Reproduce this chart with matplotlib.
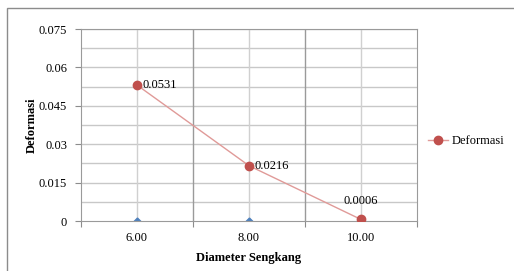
import numpy as np
import matplotlib.pyplot as plt
from matplotlib.patches import Rectangle

plt.rcParams['font.family'] = ['Liberation Serif', 'DejaVu Serif']

categories = ['6.00', '8.00', '10.00']
deformasi = [0.0531, 0.0216, 0.0006]
baseline = [0, 0, 0]
labels = ['0.0531', '0.0216', '0.0006']
yticks = [0, 0.015, 0.03, 0.045, 0.06, 0.075]
ytick_labels = ['0', '0.015', '0.03', '0.045', '0.06', '0.075']

fig = plt.figure(figsize=(5.14, 2.71), dpi=100)
fig.patches.append(Rectangle((7 / 514, -0.05), 1.2, 1 - 8 / 271 + 0.05,
                             transform=fig.transFigure, fill=False,
                             edgecolor='#8c8c8c', linewidth=1.0))
ax = fig.add_axes([81 / 514, 1 - 221 / 271, 336 / 514, 192 / 271])

x = np.arange(len(categories)) + 0.5
ax.set_xlim(0, 3)
ax.set_ylim(0, 0.075)

# gridlines
for yv in np.arange(0.0075, 0.0751, 0.0075):
    ax.axhline(yv, color='#c8c8c8', lw=1.0, zorder=0)
for xv in x:
    ax.axvline(xv, color='#d0d0d0', lw=1.0, zorder=0)
for xv in [1, 2]:
    ax.axvline(xv, color='#9a9a9a', lw=1.0, zorder=0)

ax.plot(x, baseline, ls='none', marker='D', ms=3.5, color='#4f81bd', zorder=2)
line, = ax.plot(x, deformasi, color='#e09a98', lw=1.0, marker='o', ms=6,
                markerfacecolor='#c0504d', markeredgecolor='#c0504d',
                label='Deformasi', zorder=3)

offsets = [(4, 0), (4, 0), (0, 9)]
aligns = [('left', 'center'), ('left', 'center'), ('center', 'bottom')]
for xi, yi, lab, off, al in zip(x, deformasi, labels, offsets, aligns):
    ax.annotate(lab, (xi, yi), xytext=off, textcoords='offset points',
                ha=al[0], va=al[1], fontsize=9)

ax.set_yticks(yticks)
ax.set_yticklabels(ytick_labels, fontsize=9)
ax.set_xticks([0, 1, 2, 3])
ax.set_xticklabels([])
ax.set_xticks(x, minor=True)
ax.set_xticklabels(categories, minor=True, fontsize=9)
ax.tick_params(axis='x', which='minor', length=0, pad=8)
ax.tick_params(axis='x', which='major', length=4, color='#8c8c8c')
ax.tick_params(axis='y', length=4, color='#8c8c8c', pad=6)
for s in ax.spines.values():
    s.set_color('#9a9a9a')

ax.set_xlabel('Diameter Sengkang', fontsize=9, fontweight='bold', labelpad=6)
ax.set_ylabel('Deformasi', fontsize=9, fontweight='bold', labelpad=1)

fig.legend(handles=[line], loc='center left',
           bbox_to_anchor=(428 / 514, 1 - 141 / 271), frameon=False,
           fontsize=9, handlelength=1.6, handletextpad=0.3,
           borderpad=0, borderaxespad=0)

fig.savefig('out.png', dpi=100)
